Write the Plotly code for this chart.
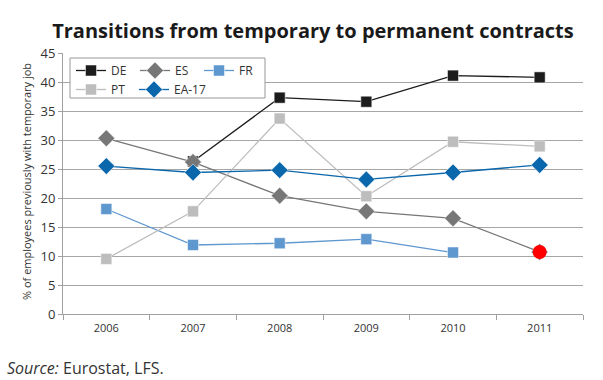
import plotly.graph_objects as go

years = ["2006", "2007", "2008", "2009", "2010", "2011"]
de = [None, 26.3, 37.3, 36.6, 41.1, 40.8]
es = [30.3, 26.2, 20.4, 17.7, 16.5, 10.7]
fr = [18.1, 11.9, 12.2, 12.9, 10.6, None]
pt = [9.5, 17.7, 33.7, 20.3, 29.7, 28.9]
ea = [25.5, 24.4, 24.8, 23.2, 24.4, 25.7]
y_ticks = [0, 5, 10, 15, 20, 25, 30, 35, 40, 45]

FONT = "Open Sans"
fig = go.Figure()

series = [
    ("DE", de, "#1c1c1c", "square", 11, "legend"),
    ("ES", es, "#777777", "diamond", 13, "legend"),
    ("FR", fr, "#5f97cf", "square", 11, "legend"),
    ("PT", pt, "#bdbdbd", "square", 11, "legend2"),
    ("EA-17", ea, "#0a67ac", "diamond", 13, "legend3"),
]
for name, vals, col, sym, sz, lg in series:
    fig.add_trace(go.Scatter(
        x=years, y=vals, name=name, mode="lines+markers", legend=lg,
        line=dict(color=col, width=1.3),
        marker=dict(symbol=sym, size=sz, color=col, line=dict(color="white", width=0.5)),
        connectgaps=False,
    ))

# highlighted last ES point
fig.add_trace(go.Scatter(
    x=[years[-1]], y=[es[-1]], mode="markers", showlegend=False,
    marker=dict(symbol="circle", size=14, color="#ff0000"),
))

PW, PH = 520, 261
def px(x):
    return (x - 63) / PW
def py(y):
    return (314 - y) / PH

leg_common = dict(orientation="h", xanchor="left", yanchor="top",
                  bgcolor="rgba(0,0,0,0)", borderwidth=0,
                  itemwidth=30, font=dict(size=12, color="#333333"),
                  tracegroupgap=0)
fig.update_layout(
    width=603, height=380,
    margin=dict(l=63, r=20, t=53, b=66),
    paper_bgcolor="white", plot_bgcolor="white",
    font=dict(family=FONT, color="#333333", size=11),
    title=dict(text="<b>Transitions from temporary to permanent contracts</b>",
               x=0.519, xanchor="center", y=0.918, yanchor="middle",
               font=dict(family=FONT, size=20, color="#1a1a1a")),
    legend=dict(x=px(71), y=py(56), entrywidth=19, **leg_common),
    legend2=dict(x=px(71), y=py(75), **leg_common),
    legend3=dict(x=px(134), y=py(75), **leg_common),
    showlegend=True,
)
fig.add_shape(type="rect", xref="paper", yref="paper",
              x0=px(70), x1=px(265), y0=py(98), y1=py(58),
              fillcolor="white", line=dict(color="#999999", width=1), layer="above")
fig.update_xaxes(
    type="category", showgrid=False, showline=True, linecolor="#a0a0a0", linewidth=1,
    ticks="outside", tickson="boundaries", ticklen=5, tickcolor="#a0a0a0",
    tickfont=dict(size=11, color="#333333"), range=[-0.5, 5.5], ticklabelstandoff=4,
)
fig.update_yaxes(
    range=[0, 45], tickvals=y_ticks, showgrid=True, gridcolor="#a6a6a6", gridwidth=1,
    showline=True, linecolor="#a0a0a0", linewidth=1, ticks="outside", ticklen=4,
    tickcolor="#a0a0a0", tickfont=dict(size=13, color="#333333"), zeroline=False,
)
fig.add_annotation(text="% of employees previously with temporary job", textangle=-90,
                   xref="paper", yref="paper", x=px(26), y=py(182),
                   xanchor="center", yanchor="middle", showarrow=False,
                   font=dict(size=11, color="#333333"))
fig.add_annotation(text="<i>Source:</i> Eurostat, LFS.", xref="paper", yref="paper",
                   x=px(5), y=py(368), xanchor="left", yanchor="middle",
                   showarrow=False, font=dict(size=16, color="#333333"))
fig.write_html("out.html", config={"displayModeBar": False},
               post_script="document.body.style.margin='0';document.body.style.overflow='hidden';")
